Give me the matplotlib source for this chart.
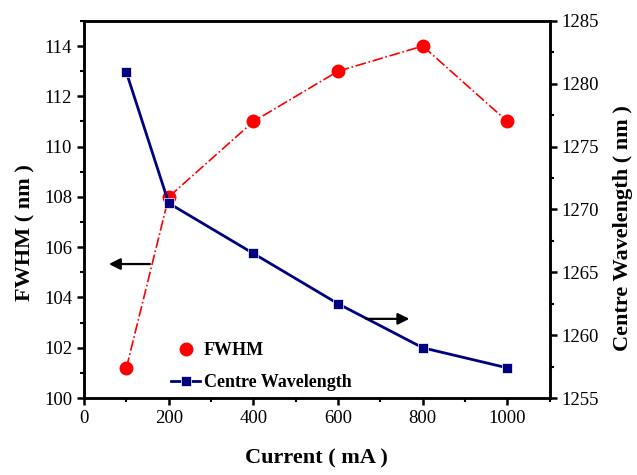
import matplotlib.pyplot as plt
from matplotlib.lines import Line2D
from matplotlib.ticker import MultipleLocator

plt.rcParams['font.family'] = ['Liberation Serif', 'DejaVu Serif']

current = [100, 200, 400, 600, 800, 1000]
fwhm = [101.2, 108, 111, 113, 114, 111]
centre_wl = [1280.9, 1270.5, 1266.5, 1262.5, 1259, 1257.4]

fig = plt.figure(figsize=(6.37, 4.75), dpi=100)
ax1 = fig.add_axes([0.132, 0.162, 0.731, 0.794])
ax2 = ax1.twinx()

ax1.plot(current, fwhm, color='red', ls='-.', lw=1.2, marker='o', ms=9)
ax2.plot(current, centre_wl, color='#000080', ls='-', lw=2, marker='s', ms=7.5,
         mec='white', mew=0.5)

ax1.set_xlim(0, 1100)
ax1.set_ylim(100, 115)
ax2.set_ylim(1255, 1285)
ax1.set_xticks([0, 200, 400, 600, 800, 1000])
ax1.xaxis.set_minor_locator(MultipleLocator(100))
ax1.set_yticks(range(100, 115, 2))
ax1.yaxis.set_minor_locator(MultipleLocator(1))
ax2.set_yticks(range(1255, 1286, 5))
ax2.yaxis.set_minor_locator(MultipleLocator(2.5))

for ax in (ax1, ax2):
    for s in ax.spines.values():
        s.set_linewidth(1.8)
    ax.tick_params(which='major', direction='out', length=5, width=1.8, labelsize=13.5)
    ax.tick_params(which='minor', direction='out', length=3, width=1.5)

ax1.set_xlabel('Current ( mA )', fontsize=16, fontweight='bold')
ax1.xaxis.set_label_coords(0.5, -0.135)
ax1.set_ylabel('FWHM ( nm )', fontsize=16, fontweight='bold')
ax1.yaxis.set_label_coords(-0.105, 0.44)
ax2.set_ylabel('Centre Wavelength ( nm )', fontsize=16, fontweight='bold', rotation=90)
ax2.yaxis.set_label_coords(1.135, 0.45)

ax1.annotate('', xy=(52, 105.33), xytext=(162, 105.33),
             arrowprops=dict(arrowstyle='-|>', color='black', lw=1.6, mutation_scale=17))
ax2.annotate('', xy=(775, 1261.3), xytext=(660, 1261.3),
             arrowprops=dict(arrowstyle='-|>', color='black', lw=1.6, mutation_scale=17))

handles = [Line2D([], [], color='red', ls='none', marker='o', ms=9),
           Line2D([], [], color='#000080', ls='-', lw=2, marker='s', ms=7.5,
                  mec='white', mew=0.5)]
ax2.legend(handles, ['FWHM', 'Centre Wavelength'], loc='lower left',
           bbox_to_anchor=(0.152, -0.025), frameon=False, handlelength=1.6,
           handletextpad=0.2, labelspacing=0.85,
           prop={'family': 'Liberation Serif', 'weight': 'bold', 'size': 13})

fig.savefig('out.png', dpi=100)
